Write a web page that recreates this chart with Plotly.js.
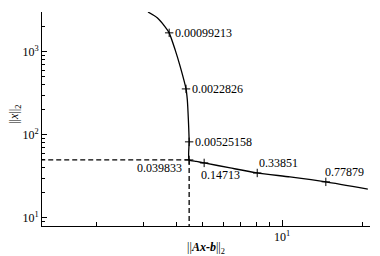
<!DOCTYPE html>
<html><head><meta charset="utf-8">
<script src="https://cdn.plot.ly/plotly-3.0.1.min.js"></script>
<style>html,body{margin:0;padding:0;background:#fff}#c{width:380px;height:256px}</style>
</head><body><div id="c"></div>
<script>
// L-curve data (residual norm vs solution norm)
const curveX = [3.13, 3.39, 3.63, 3.76, 3.96, 4.14, 4.35, 4.40, 4.44, 4.47, 4.47, 4.75, 5.09, 6.38, 8.06, 10.7, 14.6, 21.0];
const curveY = [3020, 2570, 2000, 1694, 1057, 659, 358, 263, 152, 82.5, 50, 47.9, 46, 40.0, 34.8, 31.2, 27.2, 22.3];
// labelled regularization parameters
const lambdaLabels = ["0.00099213", "0.0022826", "0.00525158", "0.039833", "0.14713", "0.33851", "0.77879"];
const markX = [3.76, 4.35, 4.47, 4.47, 5.09, 8.06, 14.6];
const markY = [1694, 358, 82.5, 50, 46, 34.8, 27.2];
// optimal corner
const cornerX = 4.47, cornerY = 50;
const yTickVals = [10, 100, 1000];
const yTickText = ["10<sup>1</sup>", "10<sup>2</sup>", "10<sup>3</sup>"];
const xTickVals = [10];
const xTickText = ["10<sup>1</sup>"];
const xTitle = "||<b><i>Ax-b</i></b>||<sub>2</sub>";
const yTitle = "||<i>x</i>||<sub>2</sub>";

const F = '"Liberation Serif", "DejaVu Serif", serif';
const minorY = [], minorX = [];
[1, 10, 100, 1000].forEach(d => { for (let k = 2; k <= 9; k++) minorY.push(k * d); });
[1, 10].forEach(d => { for (let k = 2; k <= 9; k++) minorX.push(k * d); });

// label placement: [xshift, yshift, xanchor, yanchor]
const place = [
  [4, 0, "left", "middle"],
  [4, 0, "left", "middle"],
  [4, 0, "left", "middle"],
  [-5, -8, "right", "middle"],
  [-5, -12, "left", "middle"],
  [0, 10, "left", "middle"],
  [-3, 10, "left", "middle"]
];
const annotations = lambdaLabels.map((t, i) => ({
  x: Math.log10(markX[i]), y: Math.log10(markY[i]), xref: "x", yref: "y",
  text: t, showarrow: false, xanchor: place[i][2], yanchor: place[i][3],
  xshift: place[i][0], yshift: place[i][1],
  font: {family: F, size: 12, color: "#000"}
}));
annotations.push({
  xref: "paper", yref: "paper", x: -0.082, y: 0.52, textangle: -90,
  xanchor: "center", yanchor: "middle", showarrow: false,
  text: yTitle, font: {family: F, size: 12, color: "#000"}
});

const traces = [
  {x: [1, cornerX], y: [cornerY, cornerY], mode: "lines", line: {color: "#000", width: 1.3, dash: "5px,3px"}, hoverinfo: "skip"},
  {x: [cornerX, cornerX], y: [cornerY, 1], mode: "lines", line: {color: "#000", width: 1.3, dash: "5px,3px"}, hoverinfo: "skip"},
  {x: curveX, y: curveY, mode: "lines", line: {color: "#000", width: 1.3, shape: "spline", smoothing: 0.6}},
  {x: markX, y: markY, mode: "markers", marker: {symbol: "cross-thin-open", size: 6, color: "#000", line: {color: "#000", width: 1}}}
];

const layout = {
  width: 380, height: 256,
  margin: {l: 42, r: 10, t: 12, b: 30},
  paper_bgcolor: "#fff", plot_bgcolor: "#fff",
  showlegend: false,
  font: {family: F, size: 12, color: "#000"},
  xaxis: {
    type: "log", range: [Math.log10(1.25), Math.log10(21.4)],
    showline: true, linecolor: "#000", linewidth: 1, mirror: false,
    showgrid: false, zeroline: false,
    ticks: "inside", ticklen: 6, tickcolor: "#000",
    tickmode: "array", tickvals: xTickVals, ticktext: xTickText,
    minor: {tickmode: "array", tickvals: minorX, ticks: "inside", ticklen: 4, tickcolor: "#000", showgrid: false},
    tickfont: {family: F, size: 12, color: "#000"},
    title: {text: xTitle, font: {family: F, size: 12, color: "#000"}, standoff: 2}
  },
  yaxis: {
    type: "log", range: [Math.log10(8.0), Math.log10(3020)],
    showline: true, linecolor: "#000", linewidth: 1, mirror: false,
    showgrid: false, zeroline: false,
    ticks: "inside", ticklen: 5, tickcolor: "#000",
    tickmode: "array", tickvals: yTickVals, ticktext: yTickText,
    minor: {tickmode: "array", tickvals: minorY, ticks: "inside", ticklen: 3, tickcolor: "#000", showgrid: false},
    tickfont: {family: F, size: 12, color: "#000"}
  },
  annotations: annotations
};
Plotly.newPlot("c", traces, layout, {staticPlot: true, displayModeBar: false});
</script></body></html>
